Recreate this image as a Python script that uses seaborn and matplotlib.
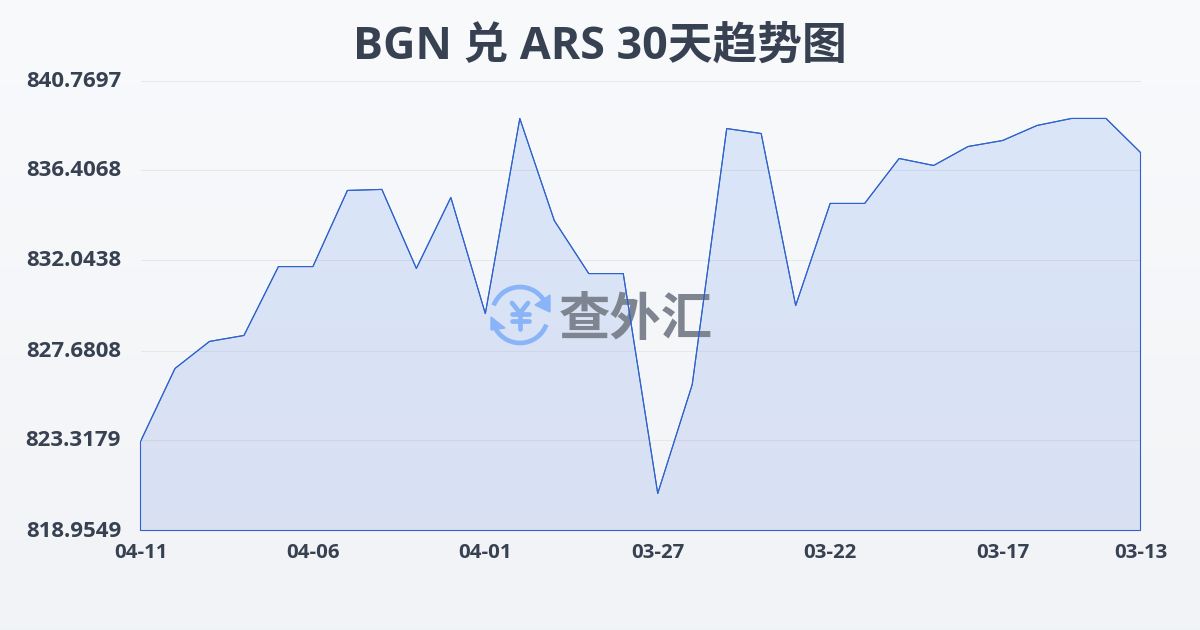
import numpy as np
import pandas as pd
import seaborn as sns
import matplotlib.pyplot as plt
from matplotlib.patches import Arc, Polygon
from matplotlib.transforms import Affine2D

TITULO = 'BGN 兑 ARS 30天趋势图'
MARCA = '查外汇'

datas = ['04-11', '04-10', '04-09', '04-08', '04-07', '04-06', '04-05', '04-04', '04-03', '04-02',
         '04-01', '03-31', '03-30', '03-29', '03-28', '03-27', '03-26', '03-25', '03-24', '03-23',
         '03-22', '03-21', '03-20', '03-19', '03-18', '03-17', '03-16', '03-15', '03-14', '03-13']
taxas = [823.27, 826.81, 828.12, 828.41, 831.75, 831.75, 835.44, 835.49, 831.66, 835.10,
         829.47, 838.93, 833.98, 831.41, 831.41, 820.75, 826.03, 838.44, 838.20, 829.86,
         834.81, 834.81, 836.99, 836.65, 837.57, 837.86, 838.59, 838.93, 838.93, 837.28]
ticks_y = [818.9549, 823.3179, 827.6808, 832.0438, 836.4068, 840.7697]
ticks_x = ['04-11', '04-06', '04-01', '03-27', '03-22', '03-17', '03-13']

AZUL = '#2f63cb'
TEXTO = '#374151'
GRADE = '#e5e7eb'
ICONE = '#8ab4f8'

sns.set_theme(style='white')
plt.rcParams['font.family'] = ['Open Sans', 'Noto Sans CJK SC', 'DejaVu Sans']

df = pd.DataFrame({'data': datas, 'taxa': taxas})
df['pos'] = range(len(df))

fig = plt.figure(figsize=(12, 6.3), dpi=100)

# fundo em degradê
fundo = fig.add_axes([0, 0, 1, 1], zorder=0)
grad = np.linspace(0, 1, 256)[:, None, None]
topo, base = np.array([0.973, 0.980, 0.988]), np.array([0.945, 0.953, 0.965])
fundo.imshow(topo + (base - topo) * grad, aspect='auto', extent=[0, 1, 0, 1])
fundo.axis('off')

ax = fig.add_axes([140.5 / 1200, 99.5 / 630, 1000 / 1200, 450 / 630], zorder=1)
ax.patch.set_alpha(0)

# área com degradê recortado pelo polígono
ymin, ymax = ticks_y[0], ticks_y[-1]
area = ax.fill_between(df['pos'], df['taxa'], ymin, facecolor='none', edgecolor=AZUL,
                       linewidth=0.8, zorder=4, clip_on=False)
cor = np.zeros((256, 1, 4))
cor[:, 0, 0] = np.linspace(59, 75, 256) / 255
cor[:, 0, 1] = np.linspace(130, 110, 256) / 255
cor[:, 0, 2] = np.linspace(246, 220, 256) / 255
cor[:, 0, 3] = 0.15
img = ax.imshow(cor, aspect='auto', extent=[0, len(df) - 1, ymin, ymax], zorder=2)
clip = Polygon(area.get_paths()[0].vertices, closed=True, transform=ax.transData)
img.set_clip_path(clip)

sns.lineplot(data=df, x='pos', y='taxa', color=AZUL, linewidth=0.8, ax=ax, zorder=5)

ax.set_xlim(0, len(df) - 1)
ax.set_ylim(ymin, ymax)
ax.set_yticks(ticks_y, [f'{v:.4f}' for v in ticks_y])
ax.set_xticks([datas.index(d) for d in ticks_x], ticks_x)
ax.grid(axis='y', color=GRADE, linewidth=0.75, zorder=1)
ax.set_axisbelow(True)
ax.set_xlabel('')
ax.set_ylabel('')
sns.despine(ax=ax, left=True, bottom=True, right=True, top=True)
ax.tick_params(axis='y', length=0, pad=14, labelsize=16, labelcolor=TEXTO)
ax.tick_params(axis='x', length=7, width=0.75, color='#f0f0e8', pad=2, labelsize=14.7, labelcolor=TEXTO)
for t in ax.get_xticklabels() + ax.get_yticklabels():
    t.set_fontweight('bold')
for t in ax.get_yticklabels():
    t.set_transform(t.get_transform() + Affine2D().translate(0, 2))

fig.text(0.5, 1 - 47 / 630, TITULO, ha='center', va='center', fontsize=32.2, fontweight='bold', color=TEXTO)

# marca d'água em coordenadas de pixel da imagem
px = Affine2D().scale(1, -1).translate(0, 630)
ax.text(636, 319, MARCA, transform=px, ha='center', va='center', fontsize=37, fontweight='bold',
        color='#7f8590', family=['Noto Sans CJK SC'], zorder=3)
ax.add_patch(Arc((520, 315), 56, 56, theta1=200, theta2=335, color=ICONE, lw=3.4, transform=px, zorder=3))
ax.add_patch(Arc((520, 315), 56, 56, theta1=20, theta2=150, color=ICONE, lw=3.4, transform=px, zorder=3))
ax.add_patch(Polygon([(550, 295), (550, 312), (535, 305)], closed=True, color=ICONE, transform=px, zorder=3))
ax.add_patch(Polygon([(491, 317), (491, 330), (505, 328)], closed=True, color=ICONE, transform=px, zorder=3))
for xs, ys in [((512, 520, 528), (303, 313, 303)), ((520, 520), (313, 329)),
               ((512, 529), (313.5, 313.5)), ((512, 529), (320.5, 320.5))]:
    ax.plot(xs, ys, color=ICONE, lw=3.4, solid_capstyle='round', transform=px, zorder=3)

fig.savefig('out.png', dpi=100)
